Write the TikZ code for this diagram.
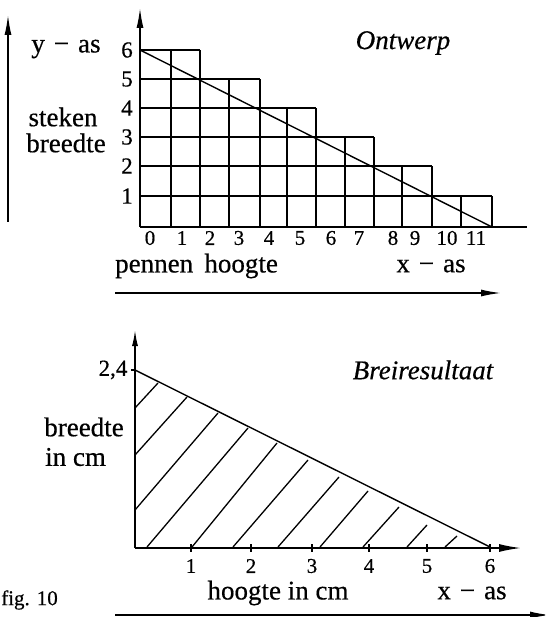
\documentclass[tikz,border=0pt]{standalone}
\usepackage{fontspec}
\setmainfont{Liberation Serif}[FakeBold=0.5]
\usetikzlibrary{arrows.meta}
\begin{document}
\begin{tikzpicture}[x=1pt,y=-1pt,
  axisline/.style={line width=1.5pt},
  gridline/.style={line width=1.6pt},
  hatchline/.style={line width=1.3pt},
  arrowline/.style={line width=1.5pt,-{Latex[length=20pt,width=7pt]}},
  lbl/.style={font=\fontsize{27}{30}\selectfont,inner sep=0pt},
  ital/.style={font=\fontsize{27}{30}\selectfont\itshape,inner sep=0pt},
  num/.style={font=\fontsize{21}{23}\selectfont,inner sep=0pt},
  lnum/.style={font=\fontsize{23}{25}\selectfont,inner sep=0pt}]
\useasboundingbox (0,0) rectangle (545,617);
\clip (0,0) rectangle (545,617);

% ---------------- TOP: Ontwerp ----------------
\def\Xs{{140,171,200,229,260,287,316,345,374,402,432,461,492}}
\def\Ys{{227,196,166,137,108,79,50}}
% horizontal grid lines
\foreach \k/\xe in {1/492,2/432,3/374,4/316,5/260,6/200}{
  \pgfmathsetmacro{\yy}{\Ys[\k]}
  \draw[gridline] (140,\yy) -- (\xe,\yy);
}
% vertical grid lines
\foreach \i/\h in {1/6,2/6,3/5,4/5,5/4,6/4,7/3,8/3,9/2,10/2,11/1,12/1}{
  \pgfmathsetmacro{\xx}{\Xs[\i]}
  \pgfmathsetmacro{\yt}{\Ys[\h]}
  \draw[gridline] (\xx,227) -- (\xx,\yt);
}
% diagonal
\draw[line width=1.4pt] (140,50) -- (492,227);
% axes
\draw[axisline] (140,227) -- (527,227);
\draw[arrowline] (140,227) -- (140,8);
% far-left arrow
\draw[arrowline] (8,222) -- (8,15);
% bottom arrow under top graph
\draw[arrowline] (115,293) -- (501,293);

% y labels
\foreach \k/\yy in {6/50,5/79,4/108,3/137,2/166,1/196}{
  \node[lnum] (ty\k) at (127,\yy) {\k};
}
% x labels
\foreach \k/\xx in {0/150,1/182,2/210,3/239,4/269,5/300,6/331,7/359,8/393,9/415,10/447,11/476}{
  \node[num] (tx\k) at (\xx,238) {\k};
}
\node[lbl] (yas) at (66,49) {y\,\,−\,\,as};
\node[lbl] (steken) at (63,117) {steken};
\node[lbl] (breedte) at (66,143) {breedte};
\node[ital] (ontwerp) at (403,43) {Ontwerp};
\node[lbl,anchor=west] (pennen) at (115,266) {pennen\, hoogte};
\node[lbl] (xas1) at (431,266) {x\,\,−\,\,as};

% ---------------- BOTTOM: Breiresultaat ----------------
\draw[hatchline] (135,408) -- (158,383);
\draw[hatchline] (135,455) -- (187,397);
\draw[hatchline] (135,510) -- (218,413);
\draw[hatchline] (147,547) -- (248,428);
\draw[hatchline] (192,547) -- (277,443);
\draw[hatchline] (233,547) -- (308,460);
\draw[hatchline] (278,547) -- (339,477);
\draw[hatchline] (320,547) -- (368,491);
\draw[hatchline] (363,547) -- (399,507);
\draw[hatchline] (407,547) -- (427,525);
\draw[hatchline] (445,547) -- (457,536);
\draw[line width=1.4pt] (135,370) -- (490,547);
\draw[line width=1.5pt,-{Latex[length=22pt,width=8pt]}] (135,548) -- (521,548);
\draw[line width=1.5pt,-{Latex[length=16pt,width=6pt]}] (135,548) -- (135,330);
\draw[line width=1.1pt] (131,370) -- (135,370);
\foreach \k/\xx in {1/191,2/251,3/312,4/369,5/427,6/490}{
  \draw[line width=1.1pt] (\xx,544) -- (\xx,552);
  \node[num] (bx\k) at (\xx,566) {\k};
}
\node[lnum] (b24) at (113,370) {2,4};
\node[lbl] (bbreedte) at (84,427) {breedte};
\node[lbl,anchor=west] (incm) at (45,457) {in cm};
\node[ital] (brei) at (423,370) {Breiresultaat};
\node[lbl] (hoogte) at (278,593) {hoogte in cm};
\node[lbl] (xas2) at (472,593) {x\,\,−\,\,as};
\node[font=\fontsize{21}{23}\selectfont,inner sep=0pt,anchor=west] (fig) at (1,600) {fig. 10};
\draw[line width=1.5pt,-{Latex[length=20pt,width=7pt]}] (115,615) -- (550,615);
\end{tikzpicture}
\end{document}
